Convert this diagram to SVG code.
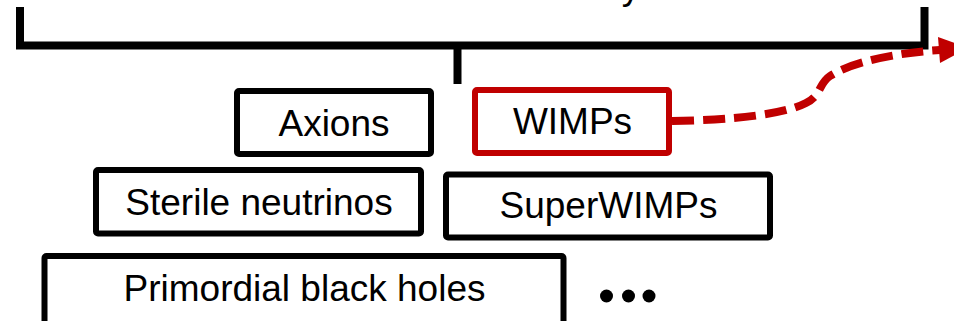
<svg xmlns="http://www.w3.org/2000/svg" width="954" height="321" viewBox="0 0 954 321">
<style>
.box{fill:#fff;stroke:#000;stroke-width:6;stroke-linejoin:round}
.red{stroke:#C00000}
.lbl{font-family:"Liberation Sans",Arial,sans-serif;font-size:37px;fill:#000;text-anchor:middle}
.br{fill:none;stroke:#000;stroke-width:8}
</style>
<rect width="954" height="321" fill="#fff"/>
<text class="lbl" x="631" y="-1" text-anchor="middle">y</text>
<g id="connectors">
<path class="br" d="M20,7 V45.5 H924.5 V7"/>
<path class="br" d="M457.5,45.5 V84"/>
<path d="M672,121 C735,120 785,114 806,103 C822,95 818,84 830,76 C852,62 895,53 940,50" fill="none" stroke="#C00000" stroke-width="8" stroke-dasharray="22 9"/>
<polygon points="938,37 968,48 940,63" fill="#C00000"/>
</g>
<g id="axions"><rect class="box" x="237" y="91" width="194" height="63" rx="2"/><text class="lbl" x="334" y="136">Axions</text></g>
<g id="wimps"><rect class="box red" x="475" y="90" width="194" height="63" rx="2"/><text class="lbl" x="572.5" y="134">WIMPs</text></g>
<g id="sterile"><rect class="box" x="96" y="170" width="325" height="63.5" rx="2"/><text class="lbl" x="259" y="215">Sterile neutrinos</text></g>
<g id="superwimps"><rect class="box" x="446" y="174.5" width="324" height="63" rx="2"/><text class="lbl" x="608.5" y="218">SuperWIMPs</text></g>
<g id="pbh"><rect class="box" x="44.5" y="256" width="519" height="75" rx="2"/><text class="lbl" x="304.5" y="301">Primordial black holes</text></g>
<g id="more"><circle cx="606.5" cy="296" r="6.5"/><circle cx="628.5" cy="296" r="6.5"/><circle cx="649" cy="296" r="6.5"/></g>
</svg>
